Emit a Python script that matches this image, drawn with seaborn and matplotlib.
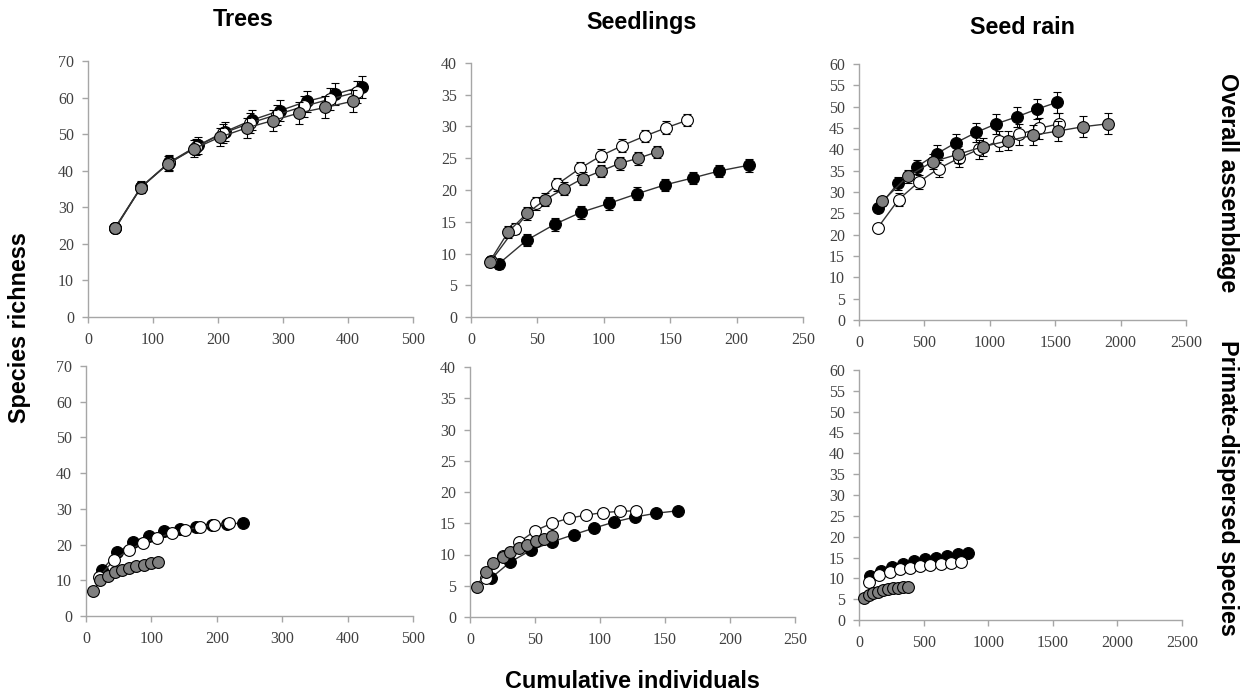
import numpy as np
import pandas as pd
import matplotlib
matplotlib.use("Agg")
import matplotlib.pyplot as plt
import seaborn as sns

# ---------------- data ----------------
# Overall assemblage - Trees
trees_x_black = [42, 82, 125, 169, 211, 253, 295, 337, 380, 421]
trees_y_black = [24.2, 35.6, 42.3, 46.9, 50.7, 53.9, 56.4, 59.0, 60.9, 63.0]
trees_x_white = [41, 82, 124, 166, 207, 249, 290, 332, 373, 414]
trees_y_white = [24.2, 35.5, 42.0, 46.5, 50.2, 53.0, 55.3, 57.6, 59.6, 61.5]
trees_x_gray = [41, 81, 123, 163, 203, 244, 284, 325, 365, 407]
trees_y_gray = [24.2, 35.4, 41.9, 46.0, 49.2, 51.7, 53.7, 55.8, 57.3, 59.0]
trees_err = [0.8, 1.5, 2.0, 2.3, 2.5, 2.7, 2.8, 2.9, 3.0, 3.0]

# Overall assemblage - Seedlings
seed_x_white = [15, 33, 49, 65, 82, 98, 114, 131, 147, 163]
seed_y_white = [8.8, 13.9, 17.9, 20.9, 23.4, 25.4, 27.0, 28.5, 29.8, 31.0]
seed_x_gray = [14, 28, 42, 56, 70, 84, 98, 112, 126, 140]
seed_y_gray = [8.7, 13.4, 16.3, 18.5, 20.2, 21.8, 23.0, 24.2, 25.0, 26.0]
seed_x_black = [21, 42, 63, 83, 104, 125, 146, 167, 187, 209]
seed_y_black = [8.4, 12.1, 14.6, 16.5, 17.9, 19.4, 20.8, 21.9, 23.0, 23.9]
seed_err = [0.8, 0.9, 1.0, 1.0, 1.0, 1.0, 1.0, 1.0, 1.0, 1.0]

# Overall assemblage - Seed rain
rain_x_black = [143, 297, 442, 596, 744, 898, 1051, 1205, 1358, 1512]
rain_y_black = [26.2, 32.0, 35.9, 39.0, 41.6, 44.0, 46.0, 47.6, 49.4, 51.0]
rain_x_white = [143, 302, 455, 609, 762, 916, 1069, 1223, 1376, 1530]
rain_y_white = [21.6, 28.2, 32.3, 35.5, 37.9, 40.0, 42.0, 43.5, 44.9, 46.0]
rain_x_gray = [179, 373, 563, 754, 946, 1138, 1330, 1522, 1714, 1905]
rain_y_gray = [27.8, 33.7, 37.1, 38.8, 40.6, 42.0, 43.3, 44.3, 45.3, 46.0]
rain_err = [1.0, 1.5, 1.7, 2.0, 2.1, 2.2, 2.3, 2.4, 2.4, 2.4]

# Primate-dispersed species - Trees
ptrees_x_black = [24, 48, 72, 96, 120, 144, 168, 192, 216, 240]
ptrees_y_black = [12.8, 17.8, 20.7, 22.5, 23.7, 24.4, 25.0, 25.4, 25.8, 26.0]
ptrees_x_white = [20, 43, 65, 87, 109, 131, 152, 174, 196, 218]
ptrees_y_white = [11.0, 15.7, 18.4, 20.5, 21.9, 23.2, 24.1, 24.9, 25.5, 26.0]
ptrees_x_gray = [11, 22, 33, 44, 55, 66, 77, 88, 99, 110]
ptrees_y_gray = [7.0, 10.0, 11.2, 12.2, 12.9, 13.4, 13.9, 14.4, 14.8, 15.2]
ptrees_err = [0.5] * 10

# Primate-dispersed species - Seedlings
pseed_x_black = [16, 31, 47, 63, 80, 95, 111, 127, 143, 160]
pseed_y_black = [6.2, 8.8, 10.7, 12.0, 13.2, 14.2, 15.2, 16.0, 16.6, 17.0]
pseed_x_white = [12, 25, 38, 50, 63, 76, 89, 102, 115, 128]
pseed_y_white = [6.2, 9.7, 12.0, 13.8, 15.0, 15.8, 16.3, 16.7, 16.9, 17.0]
pseed_x_gray = [5, 12, 18, 25, 31, 38, 44, 51, 57, 63]
pseed_y_gray = [4.8, 7.2, 8.6, 9.6, 10.4, 11.0, 11.6, 12.1, 12.5, 12.9]
pseed_err = [0.4] * 10

# Primate-dispersed species - Seed rain
prain_x_black = [85, 170, 255, 340, 425, 510, 595, 680, 765, 845]
prain_y_black = [10.6, 11.8, 12.8, 13.5, 14.1, 14.6, 15.0, 15.4, 15.8, 16.1]
prain_x_white = [79, 158, 237, 316, 395, 474, 553, 632, 711, 790]
prain_y_white = [9.2, 10.9, 11.6, 12.2, 12.6, 12.9, 13.2, 13.5, 13.7, 14.0]
prain_x_gray = [36, 74, 112, 150, 188, 226, 264, 302, 340, 378]
prain_y_gray = [5.3, 5.9, 6.4, 6.8, 7.1, 7.4, 7.6, 7.8, 7.9, 8.0]
prain_err = [0.4] * 10

col_titles = ["Trees", "Seedlings", "Seed rain"]
row_titles = ["Overall assemblage", "Primate-dispersed species"]
xlabel = "Cumulative individuals"
ylabel = "Species richness"

x_ticks = [np.arange(0, 501, 100), np.arange(0, 251, 50), np.arange(0, 2501, 500)]
y_ticks = [np.arange(0, 71, 10), np.arange(0, 41, 5), np.arange(0, 61, 5)]

# ---------------- style ----------------
sns.set_style("white")
plt.rcParams["font.family"] = ["Liberation Serif", "DejaVu Serif"]

W, H = 1252, 700
fig = plt.figure(figsize=(W / 100, H / 100), dpi=100)


def rect(l, r, t, b):
    return [l / W, 1 - b / H, (r - l) / W, (b - t) / H]


rects = [
    [rect(88, 413, 61, 317), rect(471, 803, 63, 317), rect(859, 1186, 64, 320)],
    [rect(86, 413, 366, 616), rect(470, 795, 367, 617), rect(859, 1182, 370, 620)],
]

panels = [
    [
        [(trees_x_black, trees_y_black, trees_err), (trees_x_white, trees_y_white, trees_err), (trees_x_gray, trees_y_gray, trees_err)],
        [(seed_x_black, seed_y_black, seed_err), (seed_x_white, seed_y_white, seed_err), (seed_x_gray, seed_y_gray, seed_err)],
        [(rain_x_black, rain_y_black, rain_err), (rain_x_white, rain_y_white, rain_err), (rain_x_gray, rain_y_gray, rain_err)],
    ],
    [
        [(ptrees_x_black, ptrees_y_black, ptrees_err), (ptrees_x_white, ptrees_y_white, ptrees_err), (ptrees_x_gray, ptrees_y_gray, ptrees_err)],
        [(pseed_x_black, pseed_y_black, pseed_err), (pseed_x_white, pseed_y_white, pseed_err), (pseed_x_gray, pseed_y_gray, pseed_err)],
        [(prain_x_black, prain_y_black, prain_err), (prain_x_white, prain_y_white, prain_err), (prain_x_gray, prain_y_gray, prain_err)],
    ],
]

face_colors = ["black", "white", "#7f7f7f"]
spine_col = "#a6a6a6"
tick_col = "#404040"

for r in range(2):
    for c in range(3):
        ax = fig.add_axes(rects[r][c])
        for k, (xs, ys, es) in enumerate(panels[r][c]):
            z = 3 + 2 * k
            ax.errorbar(xs, ys, yerr=es, fmt="none", ecolor="black",
                        elinewidth=0.8, capsize=3, capthick=0.8, zorder=z)
            df = pd.DataFrame({"x": xs, "y": ys})
            sns.lineplot(data=df, x="x", y="y", ax=ax, sort=False, errorbar=None,
                         color="#333333", linewidth=1.0, marker="o", markersize=8.5,
                         markerfacecolor=face_colors[k], markeredgecolor="black",
                         markeredgewidth=0.8, zorder=z + 1)
        ax.set_xlim(x_ticks[c][0], x_ticks[c][-1])
        ax.set_ylim(y_ticks[c][0], y_ticks[c][-1])
        ax.set_xticks(x_ticks[c])
        ax.set_yticks(y_ticks[c])
        ax.set_xlabel("")
        ax.set_ylabel("")
        for s in ["top", "right"]:
            ax.spines[s].set_visible(False)
        for s in ["left", "bottom"]:
            ax.spines[s].set_color(spine_col)
            ax.spines[s].set_linewidth(1.0)
        ax.tick_params(axis="both", direction="out", length=4, width=1,
                       color=spine_col, labelcolor=tick_col, labelsize=11.5)
        ax.tick_params(axis="x", bottom=True, pad=7)
        ax.tick_params(axis="y", left=True, pad=6)
        for art in ax.get_children():
            try:
                art.set_clip_on(False)
            except Exception:
                pass

bold = dict(family=["Liberation Sans", "DejaVu Sans"], fontweight="bold", fontsize=16.8, color="black")
fig.text(243 / W, 1 - 20 / H, col_titles[0], ha="center", va="center", **bold)
fig.text(642 / W, 1 - 22 / H, col_titles[1], ha="center", va="center", **bold)
fig.text(1022 / W, 1 - 27 / H, col_titles[2], ha="center", va="center", **bold)
fig.text(1228 / W, 1 - 183 / H, row_titles[0], ha="center", va="center", rotation=-90, **bold)
fig.text(1228 / W, 1 - 488 / H, row_titles[1], ha="center", va="center", rotation=-90, **bold)
fig.text(20 / W, 1 - 328 / H, ylabel, ha="center", va="center", rotation=90, **bold)
fig.text(632 / W, 1 - 682 / H, xlabel, ha="center", va="center", **bold)

fig.savefig("out.png", dpi=100, facecolor="white")
